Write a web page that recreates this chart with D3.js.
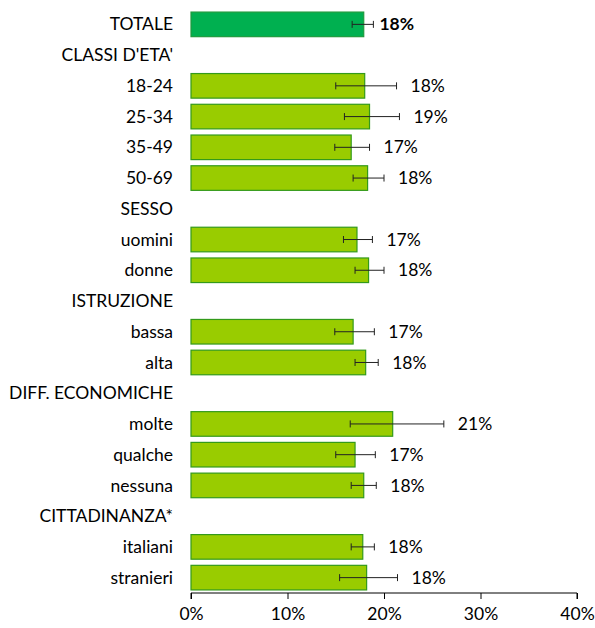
<!DOCTYPE html>
<html>
<head>
<meta charset="utf-8">
<script src="https://cdn.jsdelivr.net/npm/d3@7"></script>
<style>
  body { margin: 0; background: #fff; }
  text { font-family: Lato, "Liberation Sans", sans-serif; fill: #000; }
</style>
</head>
<body>
<svg id="chart" width="595" height="628"></svg>
<script>
// rows top to bottom; headers have no value
const labels = ["TOTALE", "CLASSI D'ETA'", "18-24", "25-34", "35-49", "50-69", "SESSO", "uomini", "donne",
  "ISTRUZIONE", "bassa", "alta", "DIFF. ECONOMICHE", "molte", "qualche", "nessuna", "CITTADINANZA*", "italiani", "stranieri"]
const values = [17.9, null, 18.0, 18.5, 16.6, 18.3, null, 17.2, 18.4, null, 16.8, 18.1, null, 20.9, 17.0, 17.9, null, 17.8, 18.2]
const errLow = [16.7, null, 15.0, 15.9, 14.9, 16.8, null, 15.8, 17.0, null, 14.9, 17.0, null, 16.5, 15.0, 16.6, null, 16.6, 15.4]
const errHigh = [18.9, null, 21.3, 21.6, 18.5, 20.0, null, 18.8, 20.0, null, 19.0, 19.4, null, 26.2, 19.1, 19.2, null, 19.0, 21.4]
const valueLabels = ["18%", null, "18%", "19%", "17%", "18%", null, "17%", "18%", null, "17%", "18%", null, "21%", "17%", "18%", null, "18%", "18%"]
const ticks = [0, 10, 20, 30, 40]

const rows = labels.map((l, i) => ({
  label: l, i: i, value: values[i], lo: errLow[i], hi: errHigh[i], text: valueLabels[i]
}))

const svg = d3.select("#chart")
const fontSize = "17.5px"

const x = d3.scaleLinear().domain([0, 40]).range([191, 577])
const y = d3.scaleBand().domain(d3.range(labels.length)).range([9, 593]).paddingInner(0.2).paddingOuter(0.1)

// category labels
svg.selectAll(".cat")
  .data(rows)
  .enter().append("text")
  .attr("class", "cat")
  .attr("x", 173)
  .attr("y", d => y(d.i) + y.bandwidth() / 2)
  .attr("dy", "0.35em")
  .attr("text-anchor", "end")
  .style("font-size", fontSize)
  .text(d => d.label)

const data = rows.filter(d => d.value != null)

// bars
svg.selectAll(".bar")
  .data(data)
  .enter().append("rect")
  .attr("class", "bar")
  .attr("x", x(0))
  .attr("y", d => y(d.i))
  .attr("width", d => x(d.value) - x(0))
  .attr("height", y.bandwidth())
  .attr("fill", d => d.i === 0 ? "#00b050" : "#99cc00")
  .attr("stroke", d => d.i === 0 ? "#1e9a3c" : "#339a1a")
  .attr("stroke-width", 1.2)

// error bars
const err = svg.selectAll(".err")
  .data(data)
  .enter().append("g")
  .attr("class", "err")
  .attr("transform", d => `translate(0, ${y(d.i) + y.bandwidth() / 2})`)

err.append("line")
  .attr("x1", d => x(d.lo)).attr("x2", d => x(d.hi))
  .attr("stroke", "#222").attr("stroke-width", 1)
err.append("line")
  .attr("x1", d => x(d.lo)).attr("x2", d => x(d.lo))
  .attr("y1", -3.5).attr("y2", 3.5)
  .attr("stroke", "#222").attr("stroke-width", 1)
err.append("line")
  .attr("x1", d => x(d.hi)).attr("x2", d => x(d.hi))
  .attr("y1", -3.5).attr("y2", 3.5)
  .attr("stroke", "#222").attr("stroke-width", 1)

// value labels
svg.selectAll(".val")
  .data(data)
  .enter().append("text")
  .attr("class", "val")
  .attr("x", d => x(d.hi) + (d.i === 0 ? 6 : 14))
  .attr("y", d => y(d.i) + y.bandwidth() / 2)
  .attr("dy", "0.35em")
  .style("font-size", fontSize)
  .style("font-weight", d => d.i === 0 ? "bold" : "normal")
  .text(d => d.text)

// x axis
const axis = svg.append("g")
  .attr("transform", "translate(0, 593)")
  .call(d3.axisBottom(x).tickValues(ticks).tickFormat(d => d + "%").tickSize(6).tickPadding(9))
axis.select(".domain").attr("stroke", "#000").attr("d", `M${x(0)},6V0H${x(40)}V6`)
axis.selectAll(".tick line").attr("stroke", "#000")
axis.selectAll(".tick text")
  .style("font-size", fontSize)
  .style("font-family", "Lato, 'Liberation Sans', sans-serif")
  .attr("fill", "#000")
</script>
</body>
</html>
